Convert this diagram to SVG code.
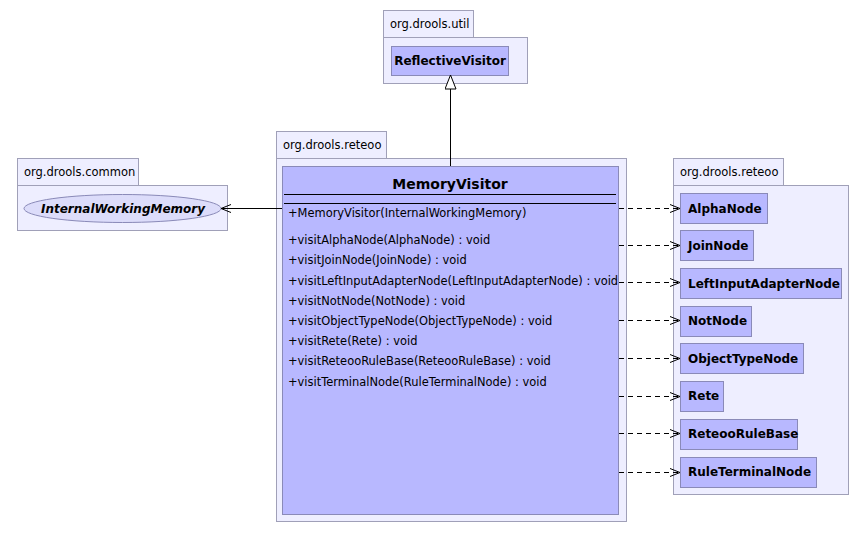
<svg xmlns="http://www.w3.org/2000/svg" width="866" height="533" viewBox="0 0 866 533">
<defs>
<style>
.pkg{fill:#eeeeff;stroke:#a0a0b8;stroke-width:1}
.cls{fill:#b8b8ff;stroke:#8a8ab8;stroke-width:1}
.plbl{font-family:"DejaVu Sans",sans-serif;font-size:11.5px;fill:#000}
.cname{font-family:"DejaVu Sans",sans-serif;font-size:12px;font-weight:bold;fill:#000}
.meth{font-family:"DejaVu Sans",sans-serif;font-size:11.45px;fill:#000}
.dep{stroke:#000;stroke-width:1;fill:none;stroke-dasharray:5,4}
.solid{stroke:#000;stroke-width:1;fill:none}
</style>
<marker id="open" markerWidth="12" markerHeight="10" refX="10" refY="5" orient="auto" markerUnits="userSpaceOnUse">
<path d="M0,1 L10,5 L0,9" fill="none" stroke="#000" stroke-width="1"/>
</marker>
<marker id="tri" markerWidth="16" markerHeight="14" refX="15" refY="6" orient="auto" markerUnits="userSpaceOnUse">
<path d="M1,0.5 L15,6 L1,11.5 Z" fill="#fff" stroke="#000" stroke-width="1"/>
</marker>
</defs>
<rect width="866" height="533" fill="#fff"/>

<g id="pkg-util">
<rect class="pkg" x="383.5" y="10.5" width="90" height="27"/>
<rect class="pkg" x="383.5" y="37.5" width="144" height="46"/>
<text class="plbl" x="390" y="28">org.drools.util</text>
</g>
<g id="ReflectiveVisitor">
<rect class="cls" x="391.5" y="46.5" width="117" height="29"/>
<text class="cname" x="450" y="65" text-anchor="middle">ReflectiveVisitor</text>
</g>

<g id="pkg-common">
<rect class="pkg" x="17.5" y="158.5" width="121" height="27"/>
<rect class="pkg" x="17.5" y="185.5" width="210" height="45"/>
<text class="plbl" x="24" y="176">org.drools.common</text>
</g>
<g id="InternalWorkingMemory">
<ellipse cx="122.5" cy="208.5" rx="98.5" ry="14" fill="#dcdcfa" stroke="#8a8ab8"/>
<text class="cname" x="123" y="213" text-anchor="middle" font-style="italic">InternalWorkingMemory</text>
</g>

<g id="pkg-reteoo-main">
<rect class="pkg" x="276.5" y="131.5" width="110" height="27"/>
<rect class="pkg" x="276.5" y="158.5" width="350" height="363"/>
<text class="plbl" x="283" y="149">org.drools.reteoo</text>
</g>
<g id="MemoryVisitor">
<rect class="cls" x="282.5" y="166.5" width="336" height="348"/>
<text x="450" y="189" text-anchor="middle" style="font-family:'DejaVu Sans',sans-serif;font-size:14px;font-weight:bold">MemoryVisitor</text>
<line class="solid" x1="284" y1="194.5" x2="616" y2="194.5"/>
<line class="solid" x1="284" y1="203.5" x2="616" y2="203.5"/>
<text class="meth" x="288" y="217">+MemoryVisitor(InternalWorkingMemory)</text>
<text class="meth" x="288" y="244">+visitAlphaNode(AlphaNode) : void</text>
<text class="meth" x="288" y="264">+visitJoinNode(JoinNode) : void</text>
<text class="meth" x="288" y="285">+visitLeftInputAdapterNode(LeftInputAdapterNode) : void</text>
<text class="meth" x="288" y="305">+visitNotNode(NotNode) : void</text>
<text class="meth" x="288" y="325">+visitObjectTypeNode(ObjectTypeNode) : void</text>
<text class="meth" x="288" y="345">+visitRete(Rete) : void</text>
<text class="meth" x="288" y="365">+visitReteooRuleBase(ReteooRuleBase) : void</text>
<text class="meth" x="288" y="386">+visitTerminalNode(RuleTerminalNode) : void</text>
</g>

<g id="pkg-reteoo-right">
<rect class="pkg" x="673.5" y="158.5" width="110" height="27"/>
<rect class="pkg" x="673.5" y="185.5" width="175" height="309"/>
<text class="plbl" x="680" y="176">org.drools.reteoo</text>
</g>
<g id="AlphaNode"><rect class="cls" x="680.5" y="193.5" width="87" height="30"/><text class="cname" x="688" y="212.5">AlphaNode</text></g>
<g id="JoinNode"><rect class="cls" x="680.5" y="230.5" width="73" height="30"/><text class="cname" x="688" y="249.5">JoinNode</text></g>
<g id="LeftInputAdapterNode"><rect class="cls" x="680.5" y="268.5" width="161" height="30"/><text class="cname" x="688" y="287.5">LeftInputAdapterNode</text></g>
<g id="NotNode"><rect class="cls" x="680.5" y="306.5" width="71" height="30"/><text class="cname" x="688" y="325">NotNode</text></g>
<g id="ObjectTypeNode"><rect class="cls" x="680.5" y="343.5" width="123" height="30"/><text class="cname" x="688" y="362.5">ObjectTypeNode</text></g>
<g id="Rete"><rect class="cls" x="680.5" y="381.5" width="43" height="30"/><text class="cname" x="688" y="400">Rete</text></g>
<g id="ReteooRuleBase"><rect class="cls" x="680.5" y="419.5" width="117" height="30"/><text class="cname" x="688" y="438">ReteooRuleBase</text></g>
<g id="RuleTerminalNode"><rect class="cls" x="680.5" y="457.5" width="136" height="30"/><text class="cname" x="688" y="476">RuleTerminalNode</text></g>

<g id="connectors">
<line class="solid" x1="450.5" y1="166" x2="450.5" y2="75" marker-end="url(#tri)"/>
<line class="solid" x1="282" y1="208.5" x2="221" y2="208.5" marker-end="url(#open)"/>
<line class="dep" x1="619" y1="208.5" x2="680" y2="208.5" marker-end="url(#open)"/>
<line class="dep" x1="619" y1="245.5" x2="680" y2="245.5" marker-end="url(#open)"/>
<line class="dep" x1="619" y1="282.5" x2="680" y2="282.5" marker-end="url(#open)"/>
<line class="dep" x1="619" y1="320.5" x2="680" y2="320.5" marker-end="url(#open)"/>
<line class="dep" x1="619" y1="358.5" x2="680" y2="358.5" marker-end="url(#open)"/>
<line class="dep" x1="619" y1="396.5" x2="680" y2="396.5" marker-end="url(#open)"/>
<line class="dep" x1="619" y1="433.5" x2="680" y2="433.5" marker-end="url(#open)"/>
<line class="dep" x1="619" y1="472.5" x2="680" y2="472.5" marker-end="url(#open)"/>
</g>
</svg>
